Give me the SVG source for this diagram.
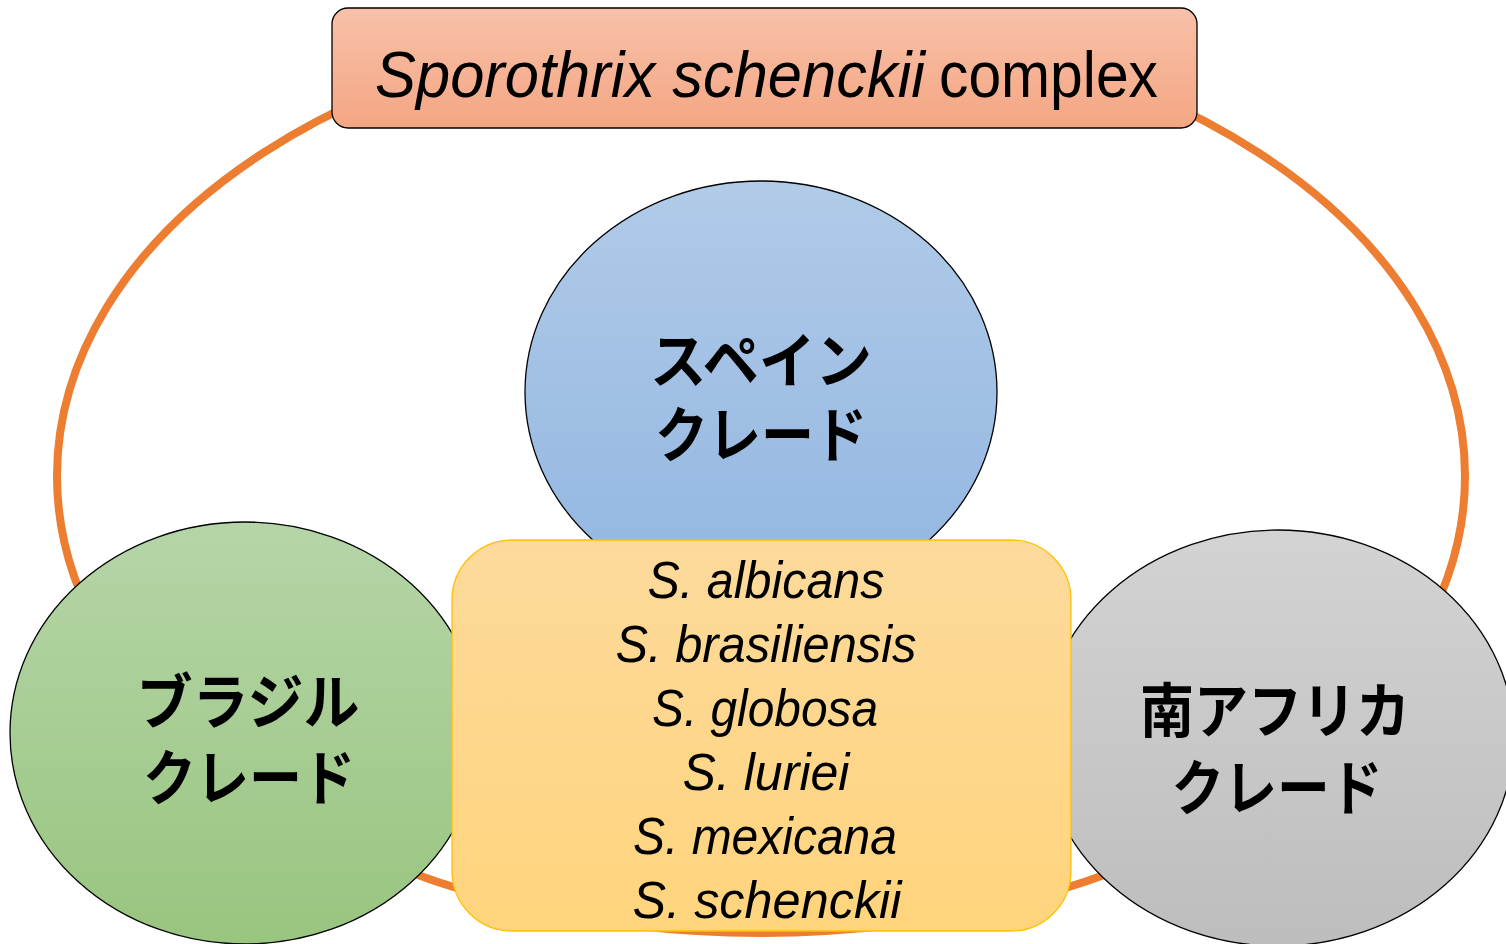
<svg xmlns="http://www.w3.org/2000/svg" width="1506" height="944" viewBox="0 0 1506 944">
<defs>
<linearGradient id="gTitle" x1="0" y1="0" x2="0" y2="1"><stop offset="0" stop-color="#f8c1a9"/><stop offset="1" stop-color="#f4a683"/></linearGradient>
<linearGradient id="gBlue" x1="0" y1="0" x2="0" y2="1"><stop offset="0" stop-color="#b1cbe8"/><stop offset="1" stop-color="#91b5e1"/></linearGradient>
<linearGradient id="gGreen" x1="0" y1="0" x2="0" y2="1"><stop offset="0" stop-color="#b5d5a8"/><stop offset="1" stop-color="#99c57f"/></linearGradient>
<linearGradient id="gGray" x1="0" y1="0" x2="0" y2="1"><stop offset="0" stop-color="#d3d3d3"/><stop offset="1" stop-color="#bdbdbd"/></linearGradient>
<linearGradient id="gYellow" x1="0" y1="0" x2="0" y2="1"><stop offset="0" stop-color="#fdda9c"/><stop offset="1" stop-color="#ffd47c"/></linearGradient>
</defs>
<style>
.clade{stroke:#000;stroke-width:1.3}
.jp{font-family:"Noto Sans CJK JP","Noto Sans",sans-serif;font-weight:bold;font-size:60px;fill:#000;text-anchor:middle}
.sp{font-family:"Liberation Sans",Arial,sans-serif;font-style:italic;font-size:52px;fill:#000;text-anchor:middle}
.title{font-family:"Liberation Sans",Arial,sans-serif;font-size:64px;fill:#000}
</style>
<g id="connectors">
<ellipse cx="761" cy="476" rx="704" ry="457" fill="none" stroke="#ed7d31" stroke-width="8"/>
</g>
<g id="title">
<rect x="332" y="8" width="865" height="120" rx="16" fill="url(#gTitle)" stroke="#000" stroke-width="1.3"/>
<text class="title" x="375" y="97" font-style="italic" textLength="550" lengthAdjust="spacingAndGlyphs">Sporothrix schenckii</text>
<text class="title" x="939" y="97" textLength="219" lengthAdjust="spacingAndGlyphs">complex</text>
</g>
<g id="spain">
<ellipse class="clade" cx="761" cy="392" rx="236" ry="211" fill="url(#gBlue)"/>
<text class="jp" x="761" y="383" textLength="222" lengthAdjust="spacingAndGlyphs">スペイン</text>
<text class="jp" x="761" y="457" textLength="212" lengthAdjust="spacingAndGlyphs">クレード</text>
</g>
<g id="brazil">
<ellipse class="clade" cx="245" cy="733" rx="235" ry="211" fill="url(#gGreen)"/>
<text class="jp" x="248" y="724" textLength="223" lengthAdjust="spacingAndGlyphs">ブラジル</text>
<text class="jp" x="249" y="800" textLength="212" lengthAdjust="spacingAndGlyphs">クレード</text>
</g>
<g id="southafrica">
<ellipse class="clade" cx="1278" cy="738" rx="236" ry="208" fill="url(#gGray)"/>
<text class="jp" x="1275" y="733" textLength="270" lengthAdjust="spacingAndGlyphs">南アフリカ</text>
<text class="jp" x="1277" y="810" textLength="211" lengthAdjust="spacingAndGlyphs">クレード</text>
</g>
<g id="species">
<rect x="452" y="540" width="619" height="391" rx="60" fill="url(#gYellow)" stroke="#ffc000" stroke-width="1.3"/>
<text class="sp" x="766" y="598" textLength="237" lengthAdjust="spacingAndGlyphs">S. albicans</text>
<text class="sp" x="766" y="662" textLength="301" lengthAdjust="spacingAndGlyphs">S. brasiliensis</text>
<text class="sp" x="765" y="726" textLength="226" lengthAdjust="spacingAndGlyphs">S. globosa</text>
<text class="sp" x="766" y="790" textLength="167" lengthAdjust="spacingAndGlyphs">S. luriei</text>
<text class="sp" x="765" y="854" textLength="264" lengthAdjust="spacingAndGlyphs">S. mexicana</text>
<text class="sp" x="767" y="918" textLength="269" lengthAdjust="spacingAndGlyphs">S. schenckii</text>
</g>
</svg>
